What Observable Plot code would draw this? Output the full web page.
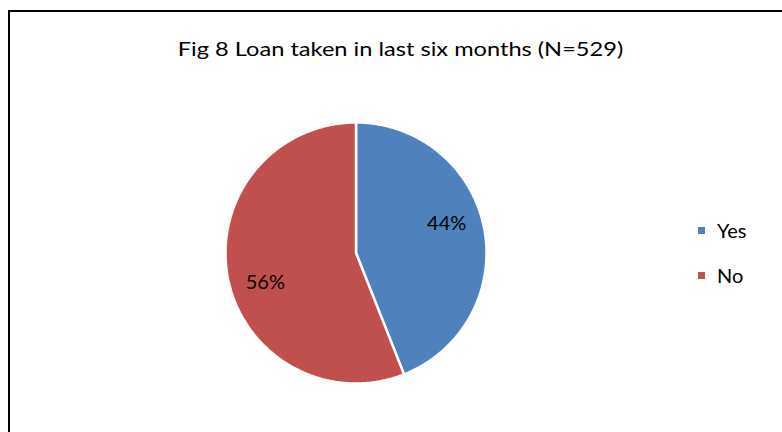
<!DOCTYPE html>
<html>
<head>
<meta charset="utf-8">
<script src="https://cdn.jsdelivr.net/npm/d3@7"></script>
<script src="https://cdn.jsdelivr.net/npm/@observablehq/plot@0.6"></script>
<style>
  html, body { margin: 0; padding: 0; background: #fff; overflow: hidden; }
  #wrap { position: relative; width: 782px; height: 432px; font-family: Lato, "Open Sans", sans-serif; color: #000; }
  #frame { position: absolute; left: 8px; top: 10px; width: 800px; height: 450px; border: 2px solid #000; box-sizing: border-box; pointer-events: none; }
  #title { position: absolute; left: 0; top: 38px; width: 801px; text-align: center; font-size: 20px; line-height: 20px; white-space: nowrap; transform: scaleX(1.18); transform-origin: 400.5px 0; }
  #chart { position: absolute; left: 0; top: 0; }
  #legend { position: absolute; left: 698px; top: 220px; font-size: 20px; }
  .row { display: flex; align-items: center; height: 20px; line-height: 20px; margin-bottom: 25px; }
  .sw { width: 7px; height: 7px; margin-right: 12px; flex: none; }
</style>
</head>
<body>
<div id="wrap">
  <div id="chart"></div>
  <div id="title"></div>
  <div id="legend"></div>
  <div id="frame"></div>
</div>
<script>
// ---- data ----
const titleText = "Fig 8 Loan taken in last six months (N=529)";
const categories = ["Yes", "No"];
const percents = [44, 56];
const colors = ["#4F81BD", "#C0504D"];

// ---- pie geometry from data ----
const rows = categories.map((c, i) => ({cat: c, value: percents[i]}));
const arcs = d3.pie().sort(null).value(d => d.value)(rows);
const outline = [];
for (const a of arcs) {
  outline.push({cat: a.data.cat, x: 0, y: 0});
  const n = Math.max(2, Math.ceil((a.endAngle - a.startAngle) / (Math.PI / 360)));
  for (let k = 0; k <= n; k++) {
    const t = a.startAngle + (a.endAngle - a.startAngle) * k / n;
    outline.push({cat: a.data.cat, x: Math.sin(t), y: -Math.cos(t)});
  }
  outline.push({cat: a.data.cat, x: 0, y: 0});
}
const labelR = 0.73, labelRot = 7 * Math.PI / 180;
const labels = arcs.map(a => {
  const m = (a.startAngle + a.endAngle) / 2 - labelRot;
  return {text: a.data.value + "%", x: labelR * Math.sin(m), y: -labelR * Math.cos(m)};
});

const plot = Plot.plot({
  width: 782,
  height: 432,
  margin: 0,
  style: {background: "transparent", overflow: "visible"},
  x: {domain: [-1, 1], range: [225, 486], axis: null},
  y: {domain: [-1, 1], range: [122, 383], axis: null},
  color: {domain: categories, range: colors},
  marks: [
    Plot.line(outline, {x: "x", y: "y", z: "cat", fill: "cat", stroke: "white", strokeWidth: 2.5, strokeLinejoin: "miter"}),
    Plot.text(labels, {x: "x", y: "y", text: "text", fontSize: 20, fontFamily: "Lato, 'Open Sans', sans-serif", fill: "#000"})
  ]
});
document.getElementById("chart").appendChild(plot);
document.getElementById("title").textContent = titleText;

const cs = plot.scale("color");
const legend = document.getElementById("legend");
cs.domain.forEach((c, i) => {
  const r = document.createElement("div");
  r.className = "row";
  const s = document.createElement("div");
  s.className = "sw";
  s.style.background = cs.range[i];
  const t = document.createElement("span");
  t.textContent = c;
  r.appendChild(s); r.appendChild(t);
  legend.appendChild(r);
});
</script>
</body>
</html>
